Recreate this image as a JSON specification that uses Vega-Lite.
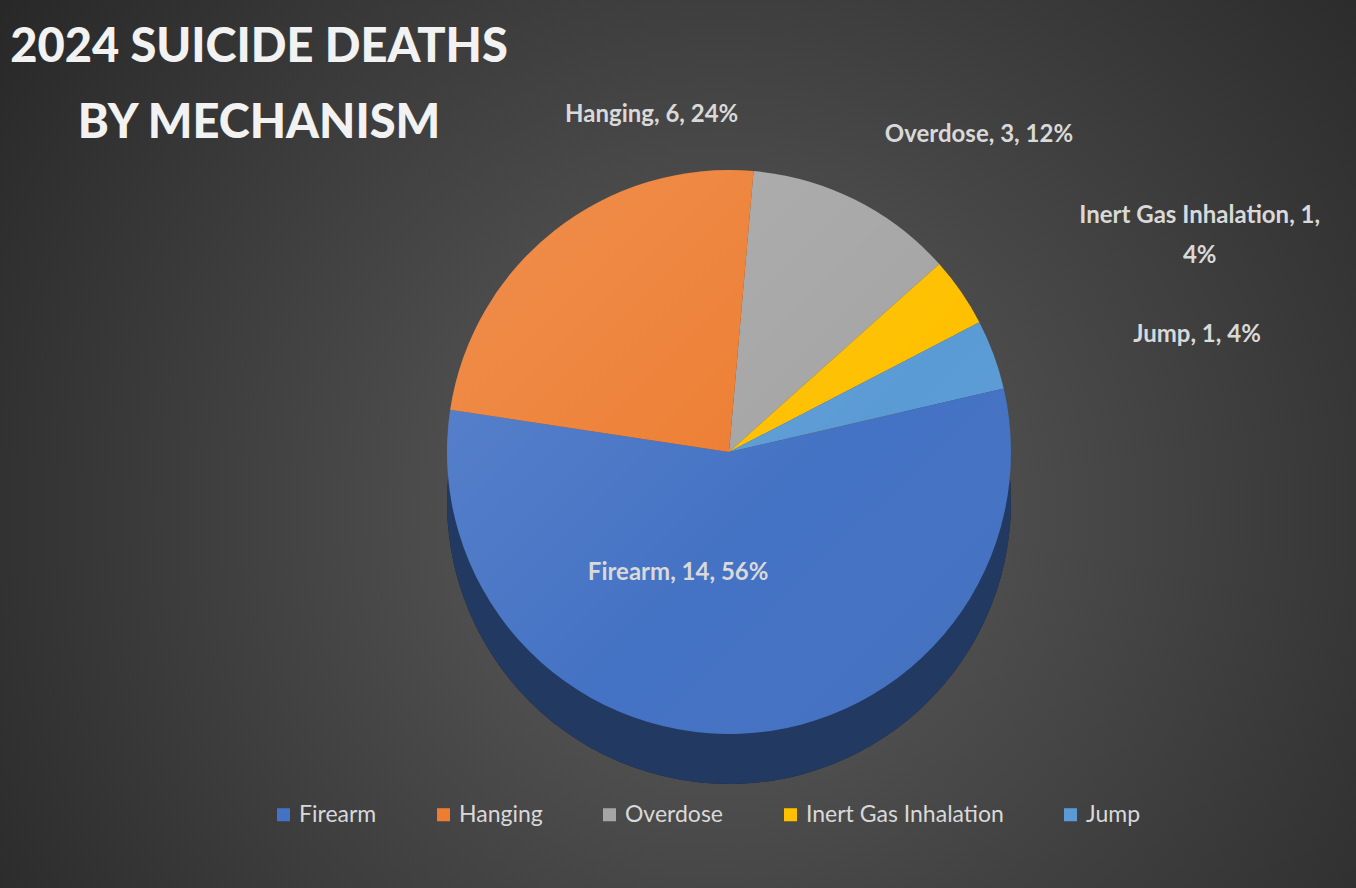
{
  "$schema": "https://vega.github.io/schema/vega-lite/v6.json",
  "width": 1356,
  "height": 888,
  "padding": 0,
  "autosize": {"type": "none"},
  "background": "#232323",
  "config": {"view": {"stroke": null}},
  "title": {
    "text": ["2024 SUICIDE DEATHS", "BY MECHANISM"],
    "anchor": "start",
    "frame": "group",
    "align": "center",
    "baseline": "top",
    "dx": 259,
    "offset": -148,
    "font": "Lato",
    "fontSize": 47,
    "fontWeight": 900,
    "color": "#f2f2f2",
    "lineHeight": 76
  },
  "data": {
    "values": [
      {"mechanism": "Overdose", "deaths": 3, "o": 1, "label": "Overdose, 3, 12%"},
      {"mechanism": "Inert Gas Inhalation", "deaths": 1, "o": 2, "label": "Inert Gas Inhalation, 1,\n4%"},
      {"mechanism": "Jump", "deaths": 1, "o": 3, "label": "Jump, 1, 4%"},
      {"mechanism": "Firearm", "deaths": 14, "o": 4, "label": "Firearm, 14, 56%"},
      {"mechanism": "Hanging", "deaths": 6, "o": 5, "label": "Hanging, 6, 24%"}
    ]
  },
  "layer": [
    {
      "data": {"values": [{}]},
      "mark": {
        "type": "rect",
        "fill": {
          "gradient": "radial",
          "x1": 0.53, "y1": 0.55, "r1": 0,
          "x2": 0.53, "y2": 0.55, "r2": 0.72,
          "stops": [
            {"offset": 0, "color": "#5e5e5e"},
            {"offset": 0.5, "color": "#404040"},
            {"offset": 1, "color": "#222222"}
          ]
        }
      },
      "encoding": {}
    },
    {
      "mark": {"type": "arc", "radius": 282, "xOffset": 51, "yOffset": 58, "fill": "#000000"},
      "encoding": {
        "theta": {"field": "deaths", "type": "quantitative", "stack": true, "scale": {"range": [0.0873, 6.3705]}},
        "order": {"field": "o", "type": "quantitative"}
      }
    },
    {
      "mark": {"type": "arc", "radius": 282, "xOffset": 51, "yOffset": 58, "fillOpacity": 0.5},
      "encoding": {
        "theta": {"field": "deaths", "type": "quantitative", "stack": true},
        "order": {"field": "o", "type": "quantitative"},
        "color": {"field": "mechanism", "type": "nominal"}
      }
    },
    {
      "mark": {"type": "arc", "radius": 282, "xOffset": 51, "yOffset": 8},
      "encoding": {
        "theta": {"field": "deaths", "type": "quantitative", "stack": true},
        "order": {"field": "o", "type": "quantitative"},
        "color": {
          "field": "mechanism",
          "type": "nominal",
          "scale": {
            "domain": ["Firearm", "Hanging", "Overdose", "Inert Gas Inhalation", "Jump"],
            "range": ["#4472C4", "#ED7D31", "#A5A5A5", "#FFC000", "#5B9BD5"]
          },
          "legend": {
            "orient": "none",
            "legendX": 272,
            "legendY": 803,
            "direction": "horizontal",
            "title": null,
            "symbolType": "square",
            "symbolSize": 170,
            "symbolStrokeWidth": 0,
            "symbolOpacity": 1,
            "labelFontSize": 23,
            "labelLimit": 400,
            "labelColor": "#d9d9d9",
            "labelFont": "Lato",
            "labelOffset": 4,
            "columnPadding": 55
          }
        }
      }
    },
    {
      "data": {"values": [{}]},
      "mark": {
        "type": "arc",
        "radius": 282,
        "xOffset": 51,
        "yOffset": 8,
        "fill": {
          "gradient": "linear",
          "x1": 0, "y1": 0, "x2": 1, "y2": 1,
          "stops": [
            {"offset": 0, "color": "rgba(255,255,255,0.14)"},
            {"offset": 0.6, "color": "rgba(255,255,255,0.0)"},
            {"offset": 1, "color": "rgba(0,0,0,0.05)"}
          ]
        }
      },
      "encoding": {}
    },
    {
      "mark": {
        "type": "text",
        "radius": 290,
        "xOffset": 51,
        "yOffset": 8,
        "font": "Lato",
        "fontSize": 24,
        "fontWeight": "bold",
        "fill": "#d9d9d9",
        "lineBreak": "\n",
        "lineHeight": 40,
        "baseline": "middle",
        "align": {"expr": "datum.mechanism === 'Overdose' || datum.mechanism === 'Jump' ? 'left' : 'center'"},
        "dx": {"expr": "datum.mechanism === 'Hanging' ? 102 : datum.mechanism === 'Overdose' ? 26 : datum.mechanism === 'Inert Gas Inhalation' ? 232 : datum.mechanism === 'Jump' ? 132 : -62"},
        "dy": {"expr": "datum.mechanism === 'Hanging' ? -109 : datum.mechanism === 'Overdose' ? -58 : datum.mechanism === 'Inert Gas Inhalation' ? -71 : datum.mechanism === 'Jump' ? -17 : -169"}
      },
      "encoding": {
        "theta": {"field": "deaths", "type": "quantitative", "stack": true},
        "order": {"field": "o", "type": "quantitative"},
        "text": {"field": "label", "type": "nominal"}
      }
    }
  ]
}
